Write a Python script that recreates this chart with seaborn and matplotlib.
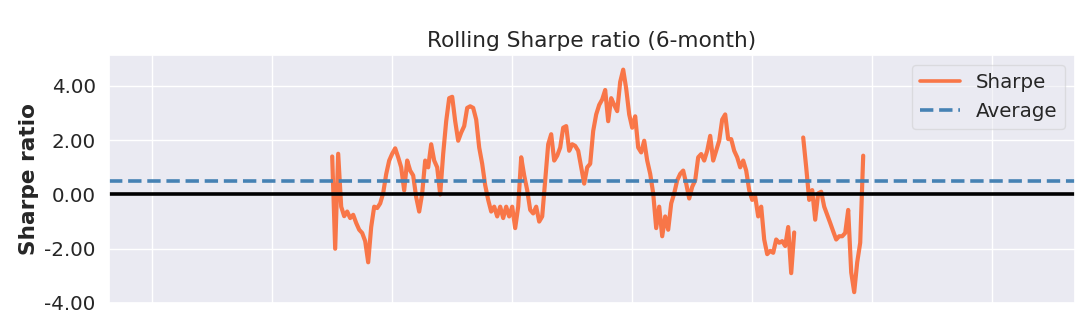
import numpy as np
import pandas as pd
import matplotlib
matplotlib.use("Agg")
import matplotlib.pyplot as plt
from matplotlib.lines import Line2D
from matplotlib.ticker import FuncFormatter
import seaborn as sns

# Rolling 6-month Sharpe ratio, one observation every 0.025 years starting at year 1.5
start_year = 1.5
step_year = 0.025
sharpe = [
    1.40, -2.00, 1.50, -0.45, -0.80, -0.63, -0.87, -0.75, -1.05, -1.30,
    -1.42, -1.72, -2.50, -1.20, -0.45, -0.50, -0.33, 0.05, 0.75, 1.25,
    1.50, 1.70, 1.37, 1.00, 0.15, 1.25, 0.88, 0.70, -0.10, -0.63,
    0.04, 1.25, 1.00, 1.85, 1.25, 1.00, 0.00, 1.50, 2.70, 3.55,
    3.60, 2.70, 1.98, 2.28, 2.52, 3.19, 3.25, 3.19, 2.76, 1.73,
    1.13, 0.34, -0.20, -0.63, -0.45, -0.81, -0.45, -0.87, -0.45, -0.81,
    -0.45, -1.24, -0.45, 1.37, 0.70, 0.16, -0.57, -0.70, -0.45, -1.00,
    -0.81, 0.52, 1.85, 2.22, 1.25, 1.43, 1.73, 2.46, 2.52, 1.61,
    1.85, 1.79, 1.61, 1.00, 0.40, 1.00, 1.13, 2.34, 2.95, 3.30,
    3.50, 3.85, 2.70, 3.55, 3.30, 3.07, 4.15, 4.60, 3.90, 2.95,
    2.46, 2.88, 1.73, 1.55, 1.98, 1.25, 0.76, 0.04, -1.24, -0.45,
    -1.54, -0.81, -1.30, -0.33, 0.04, 0.52, 0.76, 0.88, 0.40, -0.15,
    0.28, 0.52, 1.37, 1.49, 1.25, 1.61, 2.16, 1.25, 1.61, 1.98,
    2.76, 2.95, 2.04, 2.04, 1.61, 1.37, 1.00, 1.25, 0.88, 0.16,
    -0.20, -0.08, -0.81, -0.45, -1.66, -2.20, -2.08, -2.15, -1.66, -1.78,
    -1.72, -1.90, -1.20, -2.90, -1.40, np.nan, np.nan, 2.10, 1.00, -0.20,
    0.16, -0.93, 0.04, 0.10, -0.45, -0.75, -1.05, -1.36, -1.66, -1.54,
    -1.54, -1.42, -0.57, -2.87, -3.60, -2.50, -1.78, 1.43,
]
average_sharpe = 0.51

year_ticks = [0, 1, 2, 3, 4, 5, 6, 7]
x_limits = (-0.36, 7.69)
y_limits = (-4.0, 5.14)
y_ticks = [-4, -2, 0, 2, 4]
legend_labels = ["Sharpe", "Average"]

sns.set_theme(style="darkgrid", font_scale=1.3)

t = start_year + step_year * np.arange(len(sharpe))
df = pd.DataFrame({"t": t, "sharpe": sharpe})
# separate the contiguous stretches so the gap stays empty
df["segment"] = df["sharpe"].isna().cumsum()
df = df.dropna()

fig = plt.figure(figsize=(10.79, 3.27), dpi=100)
ax = fig.add_axes([0.101, 0.0734, 0.8953, 0.7584])

sharpe_w = 3.0
ref_w = 2.6
sns.lineplot(data=df, x="t", y="sharpe", units="segment", estimator=None,
             color="orangered", alpha=0.7, lw=sharpe_w, ax=ax, legend=False)
ax.axhline(average_sharpe, color="steelblue", linestyle="--", lw=ref_w)
ax.axhline(0.0, color="black", linestyle="-", lw=ref_w)

ax.set_xlim(*x_limits)
ax.set_ylim(*y_limits)
ax.set_xticks(year_ticks)
ax.set_xticklabels([])
ax.set_yticks(y_ticks)
ax.yaxis.set_major_formatter(FuncFormatter(lambda v, pos: f"{v:.2f}"))

ax.set_xlabel("")
ax.set_ylabel("Sharpe ratio", fontweight="bold")
ax.set_title("Rolling Sharpe ratio (6-month)")

handles = [
    Line2D([], [], color="orangered", alpha=0.7, lw=ref_w),
    Line2D([], [], color="steelblue", linestyle="--", lw=ref_w),
]
ax.legend(handles, legend_labels, loc="upper right", frameon=True, framealpha=0.5)

fig.savefig("out.png", dpi=100)
